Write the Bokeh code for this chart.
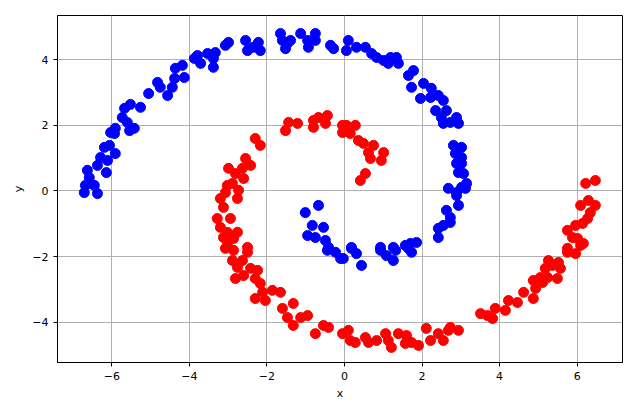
from bokeh.plotting import figure
from bokeh.models import FixedTicker, Range1d
from bokeh.embed import file_html
from bokeh.resources import INLINE

# Blue spiral
blue_x = [-6.71, -6.37, -6.68, -6.45, -6.55, -6.58, -6.63, -6.37, -6.14, -6.11, -6.29, -5.91, -6.19, -6.06, -5.93, -5.54,
          -6.03, -5.91, -5.42, -5.60, -5.73, -5.67, -5.26, -5.52, -5.05, -4.56, -4.75, -4.82, -4.44, -4.38, -4.13, -4.36, -4.18, -3.87, -3.79,
          -3.71, -3.53, -3.38, -3.38, -3.33, -3.07, -2.99, -2.55, -2.50, -2.35, -2.22, -2.17, -1.65, -1.60, -1.47, -1.52, -1.39, -1.13, -0.95, -0.93, -0.75, -0.75, -0.36, -0.28,
          0.10, 0.05, 0.31, 0.54, 0.70, 0.83, 1.01, 1.13, 1.19, 1.34, 1.39, 1.65, 1.78, 1.73, 2.04, 1.96, 2.24, 2.22, 2.42, 2.55, 2.35, 2.63, 2.50, 2.55, 2.89, 2.94, 2.73,
          2.81, 3.02, 2.86, 3.02, 2.89, 3.02, 2.94, 3.07, 3.15, 3.02, 2.68, 3.12, 2.89, 2.89, 2.94, 2.63, 2.73, 2.73, 2.55, 2.42, 2.42, 1.86, 1.70, 1.57, 1.26, 0.93, 0.18,
          -0.03, 0.18, 0.31, 0.44, 0.93, 1.08, 1.26, 1.32, 1.65, 1.73,
          -0.44, -0.23, -0.10,
          -1.01, -0.67, -0.83, -0.54, -0.95, -0.75, -0.49, -0.41]
blue_y = [-0.05, -0.08, 0.17, 0.17, 0.23, 0.41, 0.63, 0.78, 0.56, 0.93, 1.02, 1.14, 1.33, 1.39, 1.75, 1.84,
          1.78, 1.91, 1.91, 2.09, 2.24, 2.52, 2.55, 2.64, 2.97, 2.91, 3.16, 3.31, 3.16, 3.43, 3.46, 3.74, 3.83, 4.04, 4.13,
          3.89, 4.19, 4.04, 3.77, 4.22, 4.44, 4.53, 4.59, 4.28, 4.38, 4.53, 4.28, 4.80, 4.59, 4.50, 4.34, 4.59, 4.80, 4.59, 4.38, 4.80, 4.59, 4.44, 4.34,
          4.59, 4.28, 4.38, 4.38, 4.19, 4.07, 3.98, 3.89, 4.07, 4.07, 3.89, 3.52, 3.67, 3.16, 3.28, 2.82, 3.13, 2.85, 2.91, 2.76, 2.45, 2.45, 2.24, 2.06, 2.24, 2.06, 2.09,
          1.39, 1.33, 1.14, 1.02, 0.84, 0.84, 0.56, 0.53, 0.23, 0.11, 0.08, 0.08, -0.05, -0.14, -0.44, -0.59, -0.81, -0.96, -1.05, -1.14, -1.42, -1.57, -1.60, -1.66, -1.72, -1.72, -1.72,
          -2.06, -1.75, -1.91, -2.27, -1.81, -1.97, -2.12, -1.81, -1.75, -1.87,
          -1.81, -1.87, -2.06,
          -0.66, -0.44, -1.05, -1.11, -1.36, -1.42, -1.51, -1.72]

# Red spiral
red_x = [0.41, 0.54, 0.67, 0.95, 0.62, 1.01, 0.75, 0.49, 0.36, 0.15, 0.05, 0.28, -0.05, -0.05,
         -0.44, -0.67, -0.80, -0.49, -0.80, -1.21, -1.44, -1.52, -2.30, -2.17, -2.55, -2.42, -2.63, -2.99, -2.81, -2.60, -2.89, -3.02,
         -2.73, -3.07, -3.20, -2.76, -3.12, -3.28, -2.94, -3.20, -3.02, -2.76, -3.12, -2.86, -3.02, -2.50,
         -3.07, -2.86, -2.50, -2.89, -2.63, -2.76, -2.42, -2.24, -2.81, -2.60, -2.30, -2.17, -2.11, -1.86, -1.65, -2.30, -2.04, -1.60,
         -1.32, -1.47, -1.32, -1.13, -0.95, -0.75, -0.54, -0.41, -0.05,
         0.10, 0.15, 0.28, 0.54, 0.62, 0.83, 1.06, 1.13, 1.21, 1.39, 1.60, 1.57, 1.73, 1.91, 2.11, 2.22, 2.42, 2.55, 2.68, 2.73, 2.94,
         3.51, 3.69, 3.82, 3.89, 4.15, 4.23, 4.46, 4.62, 4.87, 4.93, 4.87, 5.11, 5.05, 5.24, 5.18, 5.26, 5.36, 5.52, 5.57, 5.49,
         5.75, 5.96, 6.09, 5.75, 6.16, 6.01, 5.88, 5.75, 5.96, 6.14, 6.27, 6.34, 6.47, 6.09, 6.29, 6.22, 6.47]
red_y = [0.32, 0.53, 0.99, 0.93, 1.17, 1.17, 1.39, 1.45, 1.54, 1.75, 2.00, 2.00, 2.00, 1.78,
         2.30, 2.24, 2.15, 2.06, 1.94, 2.06, 2.09, 1.84, 1.60, 1.39, 0.99, 0.78, 0.69, 0.69, 0.53, 0.38, 0.23, 0.17,
         0.02, -0.05, -0.23, -0.23, -0.50, -0.84, -0.84, -1.11, -1.26, -1.26, -1.42, -1.45, -1.66, -1.72,
         -1.75, -1.81, -1.87, -2.12, -2.12, -2.33, -2.36, -2.42, -2.67, -2.58, -2.67, -2.82, -3.09, -3.03, -3.09, -3.28, -3.34, -3.58,
         -3.43, -3.86, -4.10, -3.86, -3.80, -4.35, -4.10, -4.16, -4.35,
         -4.25, -4.56, -4.62, -4.47, -4.62, -4.56, -4.35, -4.56, -4.77, -4.35, -4.41, -4.65, -4.62, -4.71, -4.19, -4.56, -4.35, -4.56, -4.25, -4.16, -4.25,
         -3.74, -3.80, -3.89, -3.58, -3.64, -3.34, -3.40, -3.09, -3.28, -2.97, -2.73, -2.79, -2.64, -2.64, -2.36, -2.12, -2.27, -2.18, -2.36, -2.67,
         -1.87, -1.91, -1.66, -1.75, -1.60, -1.45, -1.42, -1.20, -1.05, -0.99, -0.84, -0.66, -0.44, -0.44, -0.29, 0.23, 0.32]

x_ticks = [-6, -4, -2, 0, 2, 4, 6]
y_ticks = [-4, -2, 0, 2, 4]


def lab(v):
    return ("\u2212" + str(abs(v))) if v < 0 else str(v)


p = figure(frame_width=565, frame_height=347, output_backend="svg", toolbar_location=None,
           x_range=Range1d(-7.40, 7.17), y_range=Range1d(-5.23, 5.35),
           min_border_left=57, min_border_right=10, min_border_top=15, min_border_bottom=39)

p.scatter(blue_x, blue_y, size=10, color="#0000ff", line_color="#0000ff")
p.scatter(red_x, red_y, size=10, color="#ff0000", line_color="#ff0000")

p.xaxis.ticker = FixedTicker(ticks=x_ticks)
p.yaxis.ticker = FixedTicker(ticks=y_ticks)
p.xaxis.major_label_overrides = {v: lab(v) for v in x_ticks}
p.yaxis.major_label_overrides = {v: lab(v) for v in y_ticks}
p.xaxis.axis_label = "x"
p.yaxis.axis_label = "y"

for ax in (p.xaxis, p.yaxis):
    ax.axis_label_text_font = "DejaVu Sans"
    ax.axis_label_text_font_style = "normal"
    ax.axis_label_text_font_size = "11px"
    ax.axis_label_text_color = "black"
    ax.major_label_text_font = "DejaVu Sans"
    ax.major_label_text_font_size = "11px"
    ax.major_label_text_color = "black"
    ax.axis_line_color = "black"
    ax.major_tick_line_color = "black"
    ax.major_tick_out = 4
    ax.major_tick_in = 0
    ax.minor_tick_line_color = None
    ax.axis_label_standoff = 4

p.yaxis.major_label_orientation = "horizontal"

p.grid.grid_line_color = "#b0b0b0"
p.grid.grid_line_width = 1
p.outline_line_color = "black"
p.outline_line_alpha = 1
p.outline_line_width = 1
p.background_fill_color = "white"
p.border_fill_color = "white"

open("out.html", "w").write(file_html(p, INLINE))
